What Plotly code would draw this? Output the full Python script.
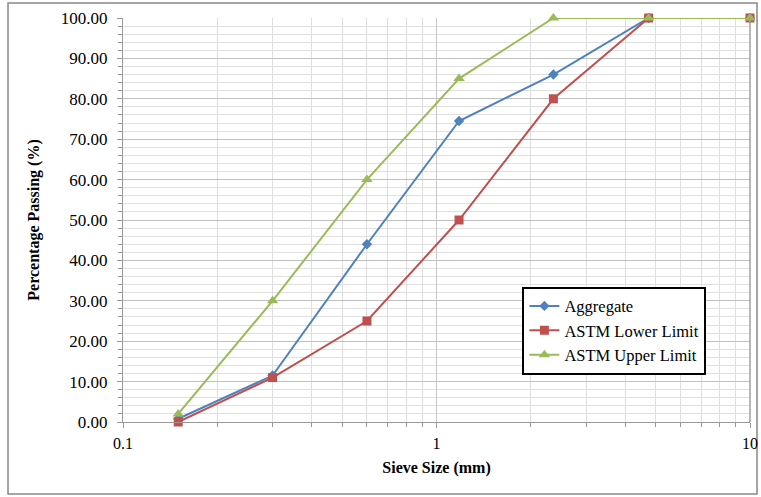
import plotly.graph_objects as go

sieve = [0.15, 0.3, 0.6, 1.18, 2.36, 4.75, 10]
aggregate = [0.8, 11.5, 44.0, 74.5, 86.0, 100.0, 100.0]
lower = [0, 11, 25, 50, 80, 100, 100]
upper = [2, 30, 60, 85, 100, 100, 100]
yticks = [0, 10, 20, 30, 40, 50, 60, 70, 80, 90, 100]

FONT = "Liberation Serif"
fig = go.Figure()
fig.add_trace(go.Scatter(x=sieve, y=aggregate, name="Aggregate", mode="lines+markers",
                         line=dict(color="#4F81BD", width=2), cliponaxis=False,
                         marker=dict(symbol="diamond", size=8, color="#4F81BD")))
fig.add_trace(go.Scatter(x=sieve, y=lower, name="ASTM Lower Limit", mode="lines+markers",
                         line=dict(color="#C0504D", width=2), cliponaxis=False,
                         marker=dict(symbol="square", size=9, color="#C0504D")))
fig.add_trace(go.Scatter(x=sieve, y=upper, name="ASTM Upper Limit", mode="lines+markers",
                         line=dict(color="#9BBB59", width=2), cliponaxis=False,
                         marker=dict(symbol="triangle-up", size=10, color="#9BBB59")))

fig.update_layout(
    width=761, height=497,
    margin=dict(l=123, r=11, t=18, b=75),
    paper_bgcolor="white", plot_bgcolor="white",
    font=dict(family=FONT, size=16, color="black"),
    showlegend=True,
    legend=dict(x=0.637, y=0.335, xanchor="left", yanchor="top",
                bgcolor="white", bordercolor="black", borderwidth=2,
                font=dict(family=FONT, size=16.5), tracegroupgap=0, itemwidth=30),
    xaxis=dict(type="log", range=[-1, 1], dtick=1, automargin=False,
               showgrid=True, gridcolor="#c8c8c8", gridwidth=1,
               minor=dict(dtick="D1", showgrid=True, gridcolor="#dedede", ticks="outside",
                          ticklen=4, tickcolor="#999999"),
               showline=True, linecolor="#999999", linewidth=1, zeroline=False,
               ticks="outside", ticklen=5, tickcolor="#999999",
               ticklabelstandoff=2,
               tickfont=dict(family=FONT, size=16),
               title=dict(text="<b>Sieve Size (mm)</b>", font=dict(family=FONT, size=16), standoff=10)),
    yaxis=dict(range=[0, 100], tickvals=yticks, ticktext=[f"{v:.2f}" for v in yticks],
               automargin=False,
               showgrid=True, gridcolor="#c0c0c0", gridwidth=1,
               minor=dict(dtick=2, showgrid=True, gridcolor="#e0e0e0", ticks="outside",
                          ticklen=4, tickcolor="#999999"),
               showline=True, linecolor="#999999", linewidth=1,
               ticks="outside", ticklen=5, tickcolor="#999999",
               ticklabelstandoff=6,
               zeroline=False,
               tickfont=dict(family=FONT, size=17),
               title=dict(text="<b>Percentage Passing (%)</b>", font=dict(family=FONT, size=16), standoff=17)),
    shapes=[dict(type="rect", xref="paper", yref="paper",
                 x0=-0.1834, x1=1.0112, y0=-0.178, y1=1.0371,
                 line=dict(color="#888888", width=1.5), fillcolor="rgba(0,0,0,0)", layer="below"),
            dict(type="line", xref="paper", yref="paper", x0=1, x1=1, y0=0, y1=1,
                 line=dict(color="#a0a0a0", width=1.5))],
)

fig.write_html("out.html")
